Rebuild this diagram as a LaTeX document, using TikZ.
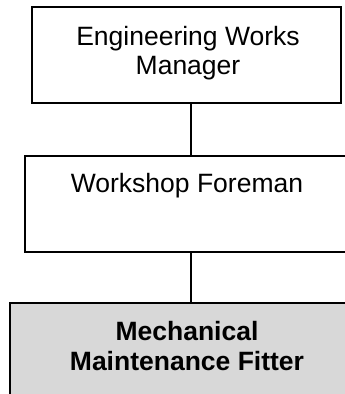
\documentclass[tikz,border=0pt]{standalone}
\usepackage{fontspec}
\setmainfont{Liberation Sans}
\definecolor{boxgray}{RGB}{216,216,216}
\tikzset{
  orgbox/.style={draw=black, line width=2pt, rectangle, inner sep=0pt, fill=white},
  graybox/.style={orgbox, fill=boxgray},
  lbl/.style={anchor=base, inner sep=0pt, font=\fontsize{26.5}{30}\selectfont},
  blbl/.style={lbl, font=\fontsize{26.5}{30}\selectfont\bfseries},
  link/.style={draw=black, line width=1.8pt}
}
\begin{document}
\begin{tikzpicture}[x=1pt,y=1pt]
\useasboundingbox (0,0) rectangle (345,-394);
\clip (0,0) rectangle (345,-394);
\node[orgbox, minimum width=309pt, minimum height=96pt] (b1) at (186.5,-55) {};
\node[orgbox, minimum width=343pt, minimum height=96pt] (b2) at (196.5,-204) {};
\node[graybox, minimum width=373pt, minimum height=100pt] (b3) at (196.5,-353) {};
\node[lbl] (t1a) at (188,-45) {Engineering Works};
\node[lbl] (t1b) at (188,-74) {Manager};
\node[lbl] (t2) at (187,-192) {Workshop Foreman};
\node[blbl] (t3a) at (187,-340) {Mechanical};
\node[blbl] (t3b) at (187,-370) {Maintenance Fitter};
\coordinate (cx) at (191,0);
\draw[link] (b1.south -| cx) -- (b2.north -| cx);
\draw[link] (b2.south -| cx) -- (b3.north -| cx);
\end{tikzpicture}
\end{document}
